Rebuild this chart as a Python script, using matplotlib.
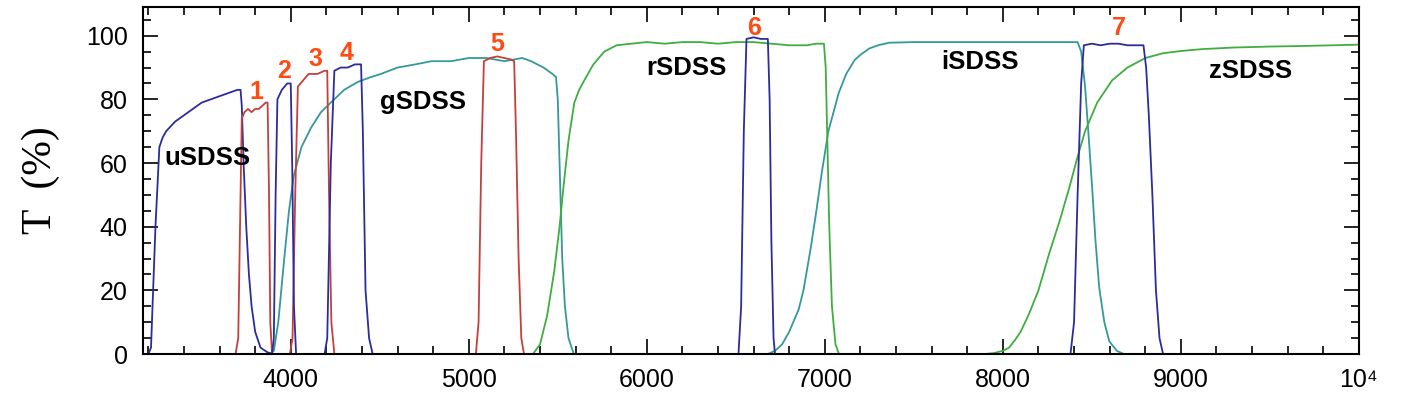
import matplotlib
matplotlib.use('Agg')
import matplotlib.pyplot as plt
from matplotlib.ticker import MultipleLocator

plt.rcParams['font.family'] = ['Liberation Sans', 'DejaVu Sans']

# --- 数据：各滤光片透过率曲线 (波长 Å, 透过率 %) ---
u_wave = [3200, 3215, 3240, 3262, 3280, 3300, 3350, 3400, 3450, 3500, 3550, 3600, 3650, 3700, 3718,
          3725, 3735, 3750, 3765, 3780, 3800, 3830, 3870, 3900]
u_trans = [0, 2, 40, 65, 68, 70, 73, 75, 77, 79, 80, 81, 82, 83, 83,
           78, 60, 40, 25, 15, 7, 2, 0.5, 0]

g_wave = [3880, 3905, 3930, 3960, 3990, 4017, 4060, 4113, 4170, 4225, 4300, 4377, 4450, 4506, 4600,
          4700, 4790, 4900, 5000, 5100, 5200, 5300, 5350, 5420, 5470, 5490, 5500, 5510, 5525, 5540,
          5560, 5590]
g_trans = [0, 1, 10, 28, 45, 56, 65, 71, 76, 79, 83, 85.5, 87, 88, 90,
           91, 92, 92, 93, 93, 92, 93, 92, 90, 88, 87, 80, 60, 30, 15,
           5, 0]

r_wave = [5360, 5400, 5440, 5480, 5510, 5531, 5560, 5593, 5620, 5649, 5700, 5761, 5830, 5913, 6000,
          6100, 6200, 6300, 6400, 6500, 6600, 6700, 6800, 6900, 6950, 6995, 7005, 7015, 7025, 7040,
          7060, 7080]
r_trans = [0, 3, 12, 26, 40, 52, 67, 79, 83, 86, 91, 95, 97, 97.5, 98,
           97.5, 98, 98, 97.5, 98, 98, 97.5, 97, 97, 97.5, 97.5, 90, 65, 40, 15,
           3, 0]

i_wave = [6680, 6720, 6760, 6800, 6853, 6880, 6920, 6950, 6983, 7020, 7078, 7120, 7168, 7200, 7250,
          7300, 7360, 7500, 7700, 7900, 8100, 8300, 8420, 8440, 8462, 8480, 8502, 8520, 8541, 8570,
          8598, 8640, 8680]
i_trans = [0, 1, 3, 7, 14, 20, 33, 44, 57, 70, 82, 88, 92.4, 94, 96,
           97, 97.8, 98, 98, 98, 98, 98, 98, 95, 84, 70, 52, 36, 21, 10,
           4, 1, 0]

z_wave = [7900, 7950, 8000, 8035, 8070, 8100, 8147, 8200, 8260, 8320, 8372, 8420, 8462, 8530, 8614,
          8700, 8800, 8900, 9000, 9121, 9300, 9500, 9700, 10000]
z_trans = [0, 0.3, 1, 2, 4.5, 7, 12.6, 20, 31.5, 42, 52, 62, 70, 79, 86,
           90, 93, 94.5, 95.2, 95.8, 96.3, 96.6, 96.8, 97.2]

# 窄带滤光片 1-7
n1_wave = [3690, 3705, 3715, 3725, 3740, 3760, 3780, 3800, 3820, 3840, 3860, 3870, 3878, 3885, 3895]
n1_trans = [0, 5, 40, 74, 76, 77, 76, 77, 77, 78, 79, 79, 50, 10, 0]
n2_wave = [3895, 3905, 3915, 3925, 3950, 3980, 4000, 4008, 4018, 4030]
n2_trans = [0, 5, 50, 80, 83, 85, 85, 60, 15, 0]
n3_wave = [3995, 4010, 4025, 4040, 4070, 4100, 4150, 4190, 4205, 4215, 4228, 4245]
n3_trans = [0, 5, 50, 84, 86, 88, 88, 89, 89, 50, 10, 0]
n4_wave = [4190, 4205, 4225, 4245, 4280, 4320, 4360, 4395, 4405, 4420, 4440, 4460]
n4_trans = [0, 5, 60, 89, 90, 90, 91, 91, 70, 20, 5, 0]
n5_wave = [5040, 5055, 5070, 5085, 5120, 5160, 5200, 5240, 5255, 5265, 5280, 5295, 5310]
n5_trans = [0, 10, 60, 92, 93, 93.5, 93, 92.5, 92, 70, 30, 5, 0]
n6_wave = [6515, 6530, 6545, 6560, 6600, 6640, 6680, 6690, 6700, 6712, 6720]
n6_trans = [0, 15, 70, 99, 99.5, 99, 99, 80, 35, 5, 0]
n7_wave = [8380, 8400, 8420, 8440, 8455, 8500, 8550, 8600, 8650, 8700, 8790, 8805, 8820, 8840, 8860, 8880, 8900]
n7_trans = [0, 10, 50, 85, 97, 97.5, 97, 97.5, 97.5, 97, 97, 90, 75, 50, 20, 5, 0]

# 标注
band_names = ['uSDSS', 'gSDSS', 'rSDSS', 'iSDSS', 'zSDSS']
band_label_pos = [(3533, 61.5), (4743, 79.2), (6223, 89.9), (7872, 91.8), (9391, 88.8)]
narrow_names = ['1', '2', '3', '4', '5', '6', '7']
narrow_label_pos = [(3809, 82.3), (3961, 89), (4141, 92.7), (4315, 94.6), (5159, 97.5), (6600, 102.5), (8654, 102.5)]

xticks = [4000, 5000, 6000, 7000, 8000, 9000, 10000]
xtick_labels = ['4000', '5000', '6000', '7000', '8000', '9000', '10\u2074']
yticks = [0, 20, 40, 60, 80, 100]

# 配色
c_blue = '#2c2c9c'
c_red = '#c4403c'
c_teal = '#35999a'
c_green = '#40ad40'
c_num = '#ff4a12'

fig = plt.figure(figsize=(14.13, 3.94), dpi=100)
ax = fig.add_axes([0.1012, 0.1015, 0.8605, 0.8805])

lw = 1.3
ax.plot(g_wave, g_trans, color=c_teal, lw=lw)
ax.plot(i_wave, i_trans, color=c_teal, lw=lw)
ax.plot(r_wave, r_trans, color=c_green, lw=lw)
ax.plot(z_wave, z_trans, color=c_green, lw=lw)
ax.plot(u_wave, u_trans, color=c_blue, lw=lw)
for w, t in [(n1_wave, n1_trans), (n3_wave, n3_trans), (n5_wave, n5_trans)]:
    ax.plot(w, t, color=c_red, lw=lw)
for w, t in [(n2_wave, n2_trans), (n4_wave, n4_trans), (n6_wave, n6_trans), (n7_wave, n7_trans)]:
    ax.plot(w, t, color=c_blue, lw=lw)

for name, (x, y) in zip(band_names, band_label_pos):
    ax.text(x, y, name, fontsize=18.5, fontweight='bold', color='black', ha='center', va='center')
for name, (x, y) in zip(narrow_names, narrow_label_pos):
    ax.text(x, y, name, fontsize=18, fontweight='bold', color=c_num, ha='center', va='center')

# 坐标轴
ax.set_xlim(3170, 10000)
ax.set_ylim(0, 109)
ax.set_xticks(xticks)
ax.set_xticklabels(xtick_labels)
ax.set_yticks(yticks)
ax.xaxis.set_minor_locator(MultipleLocator(200))
ax.yaxis.set_minor_locator(MultipleLocator(5))
ax.tick_params(which='both', direction='in', top=True, right=True, width=1.2, labelsize=18)
ax.tick_params(axis='x', pad=10)
ax.tick_params(axis='y', pad=11)
ax.tick_params(which='major', length=11)
ax.tick_params(which='minor', length=5.5)
for s in ax.spines.values():
    s.set_linewidth(1.5)

ax.set_ylabel('T  (%)', fontsize=30, family='Liberation Serif')
ax.yaxis.set_label_coords(-0.068, 0.5)

plt.savefig('out.png', dpi=100)
